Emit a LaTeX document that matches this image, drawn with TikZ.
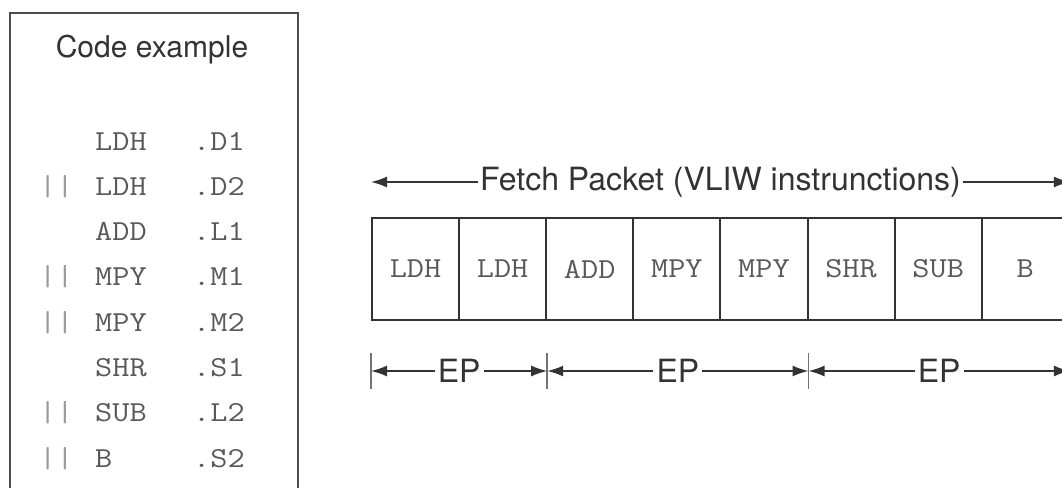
\documentclass[tikz,border=0pt]{standalone}
\usepackage{fontspec}
\setsansfont{TeX Gyre Heros}
\setmonofont{Latin Modern Mono}[FakeStretch=1.15]
\usetikzlibrary{arrows.meta,positioning,calc}

\begin{document}
\begin{tikzpicture}[
  x=1pt, y=-1pt,
  font=\sffamily,
  frame/.style={draw=black!70, line width=2.4pt},
  cell/.style={draw=black!80, line width=2pt, minimum width=87.1pt, minimum height=102pt, inner sep=0pt, font=\ttfamily\fontsize{29}{29}\selectfont, text=black!65},
  op/.style={anchor=base west, inner sep=0pt, font=\ttfamily\fontsize{29}{29}\selectfont, text=black!65},
  parbar/.style={op, text=black!40},
  lbl/.style={inner sep=1.5pt, font=\sffamily\fontsize{32}{32}\selectfont, text=black!80},
  dim/.style={-{Latex[length=16pt,width=11pt]}, line width=1.6pt, draw=black!80},
  tick/.style={line width=1.6pt, draw=black!55}
]
\useasboundingbox (0,0) rectangle (1062,487);
\clip (0,0) rectangle (1062,487);

% code listing
\node[frame, anchor=north west, minimum width=288pt, minimum height=520pt] (code) at (9,12) {};
\node[anchor=base, inner sep=0pt, font=\sffamily\fontsize{30}{30}\selectfont, text=black!80] (title) at (152,57) {Code example};
\foreach \o/\u/\p [count=\i from 0] in {LDH/.D1/{}, LDH/.D2/||, ADD/.L1/{}, MPY/.M1/||, MPY/.M2/||, SHR/.S1/{}, SUB/.L2/||, B/.S2/||} {
  \node[parbar] (bar\i) at (39,{150+45.3*\i}) {\p};
  \node[op] (op\i) at (95,{150+45.3*\i}) {\o};
  \node[op] (unit\i) at (193,{150+45.3*\i}) {\u};
}

% fetch packet
\foreach \t [count=\i] in {LDH,LDH,ADD,MPY,MPY,SHR,SUB,B} {
  \node[cell] (c\i) at ({372+87.1*(\i-0.5)},269) {\t};
}

\node[lbl, fill=white] (fetch) at (720.5,182) {Fetch Packet (VLIW instrunctions)};
\coordinate (fpL) at (c1.west |- fetch);
\coordinate (fpR) at (c8.east |- fetch);
\draw[dim] (fetch.west) -- (fpL);
\draw[dim] (fetch.east) -- (fpR);

% execute packets
\coordinate (t0) at (c1.west |- 0,371);
\coordinate (t1) at (c2.east |- 0,371);
\coordinate (t2) at (c5.east |- 0,371);
\coordinate (t3) at (c8.east |- 0,371);
\foreach \k in {0,...,3} {
  \draw[tick] ([yshift=18pt]t\k) -- ([yshift=-18pt]t\k);
}
\foreach \a/\b [count=\i] in {t0/t1, t1/t2, t2/t3} {
  \node[lbl, inner sep=3pt] (ep\i) at ($(\a)!0.5!(\b)$) {EP};
  \draw[dim] (ep\i.west) -- (\a);
  \draw[dim] (ep\i.east) -- (\b);
}
\end{tikzpicture}
\end{document}
